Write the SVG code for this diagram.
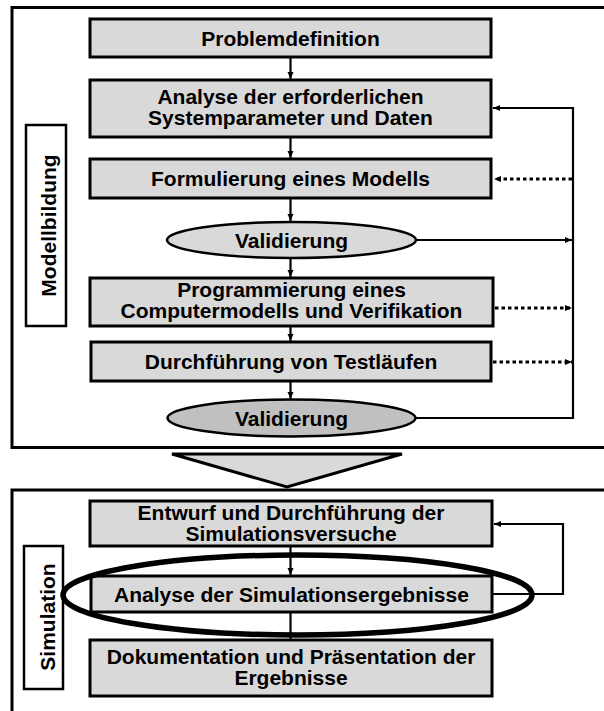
<svg xmlns="http://www.w3.org/2000/svg" width="604" height="711" viewBox="0 0 604 711">
  <defs>
    <marker id="arrow" markerWidth="8" markerHeight="8" refX="7" refY="4" orient="auto" markerUnits="userSpaceOnUse">
      <path d="M0,1 L7,4 L0,7 Z" fill="#000"/>
    </marker>
    <style>
      .frame { fill: #fff; stroke: #000; stroke-width: 3; }
      .box { fill: #d9d9d9; stroke: #000; stroke-width: 3; }
      .oval { fill: #d9d9d9; stroke: #000; stroke-width: 2.5; }
      .oval-dark { fill: #c0c0c0; stroke: #000; stroke-width: 2.5; }
      .tag { fill: #fff; stroke: #000; stroke-width: 2.5; }
      .label { font-family: "Liberation Sans", Arial, sans-serif; font-weight: bold; font-size: 21px; fill: #000; text-anchor: middle; }
      .flow { fill: none; stroke: #000; stroke-width: 2.2; }
      .dotted { fill: none; stroke: #000; stroke-width: 3; stroke-dasharray: 3.5 3; }
      .highlight { fill: none; stroke: #000; stroke-width: 5.5; }
    </style>
  </defs>

  <!-- phase frames -->
  <rect id="frame-modellbildung" class="frame" x="12" y="7.5" width="600" height="440"/>
  <rect id="frame-simulation" class="frame" x="12" y="490" width="600" height="240"/>

  <!-- phase tags -->
  <g id="tag-modellbildung">
    <rect class="tag" x="26" y="125" width="40" height="201"/>
    <text class="label" transform="translate(56,225.5) rotate(-90)">Modellbildung</text>
  </g>
  <g id="tag-simulation">
    <rect class="tag" x="24" y="546" width="39" height="143"/>
    <text class="label" transform="translate(55,617) rotate(-90)">Simulation</text>
  </g>

  <!-- transition arrow between phases -->
  <polygon id="phase-transition" points="172,454 402,454 287,487" fill="#d9d9d9" stroke="#000" stroke-width="3" stroke-linejoin="miter"/>

  <!-- connectors -->
  <g id="connectors">
    <line class="flow" x1="290.5" y1="57" x2="290.5" y2="79" marker-end="url(#arrow)"/>
    <line class="flow" x1="290.5" y1="137" x2="290.5" y2="158" marker-end="url(#arrow)"/>
    <line class="flow" x1="290.5" y1="198" x2="290.5" y2="221" marker-end="url(#arrow)"/>
    <line class="flow" x1="290.5" y1="258" x2="290.5" y2="277" marker-end="url(#arrow)"/>
    <line class="flow" x1="290.5" y1="326" x2="290.5" y2="341" marker-end="url(#arrow)"/>
    <line class="flow" x1="290.5" y1="381" x2="290.5" y2="399" marker-end="url(#arrow)"/>
    <polyline class="flow" points="415,418 573,418 573,108 493,108" marker-end="url(#arrow)"/>
    <line class="flow" x1="416" y1="240" x2="572" y2="240" marker-end="url(#arrow)"/>
    <line class="dotted" x1="572" y1="179" x2="494" y2="179" marker-end="url(#arrow)"/>
    <line class="dotted" x1="495" y1="308" x2="572" y2="308" marker-end="url(#arrow)"/>
    <line class="dotted" x1="493" y1="362" x2="572" y2="362" marker-end="url(#arrow)"/>
    <line class="flow" x1="290.5" y1="546" x2="290.5" y2="575" marker-end="url(#arrow)"/>
    <line class="flow" x1="290.5" y1="612" x2="290.5" y2="640"/>
    <polyline class="flow" points="492,594 563,594 563,524 494,524" marker-end="url(#arrow)"/>
  </g>

  <!-- modelling steps -->
  <g id="problemdefinition">
    <rect class="box" x="90" y="19" width="401" height="38"/>
    <text class="label" x="290.5" y="45.5">Problemdefinition</text>
  </g>
  <g id="analyse-systemparameter">
    <rect class="box" x="90" y="80" width="401" height="57"/>
    <text class="label" x="290.5" y="104">Analyse der erforderlichen</text>
    <text class="label" x="290.5" y="125">Systemparameter und Daten</text>
  </g>
  <g id="formulierung">
    <rect class="box" x="90" y="159" width="401" height="39"/>
    <text class="label" x="290.5" y="185.5">Formulierung eines Modells</text>
  </g>
  <g id="validierung-1">
    <ellipse class="oval" cx="291.5" cy="240" rx="124.5" ry="18"/>
    <text class="label" x="291.5" y="247.5">Validierung</text>
  </g>
  <g id="programmierung">
    <rect class="box" x="90" y="278" width="403" height="48"/>
    <text class="label" x="291.5" y="297">Programmierung eines</text>
    <text class="label" x="291.5" y="318">Computermodells und Verifikation</text>
  </g>
  <g id="testlaeufe">
    <rect class="box" x="91" y="342" width="400" height="39"/>
    <text class="label" x="291" y="368.5">Durchführung von Testläufen</text>
  </g>
  <g id="validierung-2">
    <ellipse class="oval-dark" cx="291.5" cy="418" rx="124" ry="18.5"/>
    <text class="label" x="291.5" y="425.5">Validierung</text>
  </g>

  <!-- simulation steps -->
  <g id="versuche">
    <rect class="box" x="90" y="501" width="402" height="45"/>
    <text class="label" x="291" y="520">Entwurf und Durchführung der</text>
    <text class="label" x="291" y="541">Simulationsversuche</text>
  </g>
  <g id="ergebnisanalyse">
    <rect class="box" x="91" y="576" width="401" height="36"/>
    <text class="label" x="291.5" y="601.5">Analyse der Simulationsergebnisse</text>
    <ellipse class="highlight" cx="297.5" cy="595" rx="234.5" ry="40"/>
  </g>
  <g id="dokumentation">
    <rect class="box" x="90" y="640" width="402" height="56"/>
    <text class="label" x="291" y="664">Dokumentation und Präsentation der</text>
    <text class="label" x="291" y="685">Ergebnisse</text>
  </g>
</svg>
